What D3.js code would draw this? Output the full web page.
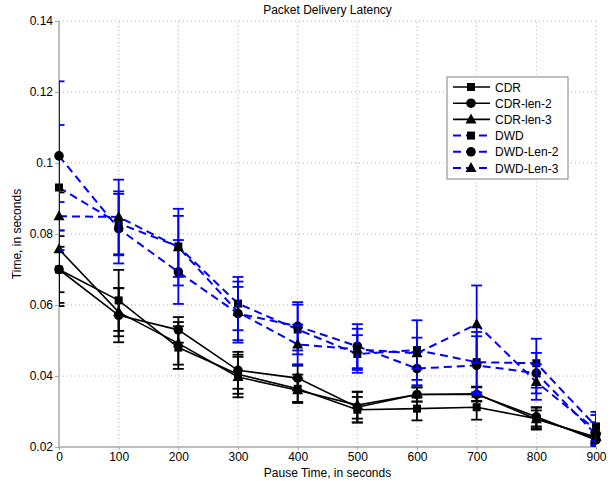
<!DOCTYPE html>
<meta charset="utf-8">
<style>
body { margin: 0; background: #fff; }
text { font-family: "Liberation Sans", Arial, sans-serif; font-size: 12px; fill: #000; }
.grid line { stroke: #b0b0b0; stroke-dasharray: 1,3; }
.axis path, .axis line { stroke: #a8a8a8; }
.axis path { stroke-width: 1.5; }
</style>
<svg width="613" height="481"></svg>
<script src="https://cdn.jsdelivr.net/npm/d3@7"></script>
<script>

var pauseTimes = [0, 100, 200, 300, 400, 500, 600, 700, 800, 900];

var cdr        = [0.0700, 0.0613, 0.0480, 0.0405, 0.0364, 0.0305, 0.0308, 0.0312, 0.0280, 0.0225];
var cdrErr     = [0.0064, 0.0086, 0.0060, 0.0055, 0.0040, 0.0036, 0.0033, 0.0035, 0.0031, 0.0015];
var cdrLen2    = [0.0700, 0.0571, 0.0530, 0.0416, 0.0394, 0.0312, 0.0348, 0.0348, 0.0285, 0.0220];
var cdrLen2Err = [0.0094, 0.0076, 0.0036, 0.0052, 0.0035, 0.0043, 0.0020, 0.0020, 0.0027, 0.0015];
var cdrLen3    = [0.0757, 0.0580, 0.0492, 0.0397, 0.0360, 0.0318, 0.0348, 0.0350, 0.0278, 0.0228];
var cdrLen3Err = [0.0160, 0.0068, 0.0060, 0.0057, 0.0033, 0.0038, 0.0020, 0.0020, 0.0025, 0.0015];
var dwd        = [0.0931, 0.0830, 0.0765, 0.0604, 0.0531, 0.0462, 0.0473, 0.0439, 0.0436, 0.0258];
var dwdErr     = [0.0176, 0.0090, 0.0086, 0.0075, 0.0070, 0.0053, 0.0084, 0.0085, 0.0069, 0.0041];
var dwdLen2    = [0.1020, 0.0815, 0.0693, 0.0576, 0.0540, 0.0484, 0.0421, 0.0430, 0.0408, 0.0235];
var dwdLen2Err = [0.0210, 0.0098, 0.0090, 0.0075, 0.0068, 0.0062, 0.0047, 0.0082, 0.0057, 0.0035];
var dwdLen3    = [0.0850, 0.0848, 0.0763, 0.0580, 0.0489, 0.0475, 0.0464, 0.0546, 0.0383, 0.0248];
var dwdLen3Err = [0.0040, 0.0105, 0.0108, 0.0086, 0.0056, 0.0058, 0.0044, 0.0109, 0.0050, 0.0042];

var yTicks = [0.02, 0.04, 0.06, 0.08, 0.1, 0.12, 0.14];
var yTickLabels = ["0.02", "0.04", "0.06", "0.08", "0.1", "0.12", "0.14"];

var series = [
  {name: "CDR",       vals: cdr,     err: cdrErr,     color: "#000", dash: null, marker: "square"},
  {name: "CDR-len-2", vals: cdrLen2, err: cdrLen2Err, color: "#000", dash: null, marker: "circle"},
  {name: "CDR-len-3", vals: cdrLen3, err: cdrLen3Err, color: "#000", dash: null, marker: "triangle"},
  {name: "DWD",       vals: dwd,     err: dwdErr,     color: "#0000ff", dash: "8,5", marker: "square"},
  {name: "DWD-Len-2", vals: dwdLen2, err: dwdLen2Err, color: "#0000ff", dash: "8,5", marker: "circle"},
  {name: "DWD-Len-3", vals: dwdLen3, err: dwdLen3Err, color: "#0000ff", dash: "8,5", marker: "triangle"}
];

var svg = d3.select("svg");
var pLeft = 59, pRight = 596, pTop = 21, pBottom = 447;

var x = d3.scaleLinear().domain([0, 900]).range([pLeft, pRight]);
var y = d3.scaleLinear().domain([0.02, 0.14]).range([pBottom, pTop]);

// grid
var grid = svg.append("g").attr("class", "grid");
grid.selectAll(".gx").data(pauseTimes.slice(1)).enter().append("line")
  .attr("x1", d => x(d)).attr("x2", d => x(d))
  .attr("y1", pBottom).attr("y2", pTop);
grid.selectAll(".gy").data(yTicks.slice(1)).enter().append("line")
  .attr("x1", pLeft).attr("x2", pRight)
  .attr("y1", d => y(d)).attr("y2", d => y(d));

// axes
svg.append("g").attr("class", "axis")
  .attr("transform", "translate(0," + pBottom + ")")
  .call(d3.axisBottom(x).tickValues(pauseTimes).tickSizeInner(3).tickSizeOuter(0).tickPadding(2))
  .call(g => g.select(".domain").attr("d", "M" + pLeft + ",0H" + pRight));

svg.append("g").attr("class", "axis")
  .attr("transform", "translate(" + pLeft + ",0)")
  .call(d3.axisLeft(y).tickValues(yTicks).tickFormat((d, i) => yTickLabels[i]).tickSizeInner(4).tickSizeOuter(0).tickPadding(2))
  .call(g => g.select(".domain").attr("d", "M0," + pBottom + "V" + pTop));

svg.selectAll(".axis text").style("font-size", "12px").attr("fill", "#000");

svg.append("clipPath").attr("id", "clip")
  .append("rect").attr("x", pLeft).attr("y", pTop - 2).attr("width", pRight - pLeft).attr("height", pBottom - pTop + 2);

function drawMarker(g, type, cx, cy) {
  if (type === "square") {
    g.append("rect").attr("x", cx - 4).attr("y", cy - 4).attr("width", 8).attr("height", 8).attr("fill", "#000");
  } else if (type === "circle") {
    g.append("circle").attr("cx", cx).attr("cy", cy).attr("r", 4.8).attr("fill", "#000");
  } else {
    g.append("path").attr("d", "M" + cx + "," + (cy - 6) + "L" + (cx + 5.5) + "," + (cy + 4) + "L" + (cx - 5.5) + "," + (cy + 4) + "Z").attr("fill", "#000");
  }
}

var line = d3.line().x((d, i) => x(pauseTimes[i])).y(d => y(d));

series.forEach(function(s) {
  var g = svg.append("g");
  var eb = g.append("g").attr("clip-path", "url(#clip)")
    .attr("stroke", s.color).attr("stroke-width", 1.8);
  s.vals.forEach(function(v, i) {
    var cx = x(pauseTimes[i]), lo = y(v - s.err[i]), hi = y(v + s.err[i]);
    eb.append("line").attr("x1", cx).attr("x2", cx).attr("y1", lo).attr("y2", hi);
    eb.append("line").attr("x1", cx - 5.5).attr("x2", cx + 5.5).attr("y1", lo).attr("y2", lo);
    eb.append("line").attr("x1", cx - 5.5).attr("x2", cx + 5.5).attr("y1", hi).attr("y2", hi);
  });
  g.append("path").datum(s.vals)
    .attr("d", line).attr("fill", "none")
    .attr("stroke", s.color).attr("stroke-width", s.dash ? 2 : 1.6)
    .attr("stroke-dasharray", s.dash);
  s.vals.forEach(function(v, i) { drawMarker(g, s.marker, x(pauseTimes[i]), y(v)); });
});

// title and labels
svg.append("text").attr("x", (pLeft + pRight) / 2).attr("y", 14).attr("text-anchor", "middle").text("Packet Delivery Latency");
svg.append("text").attr("x", (pLeft + pRight) / 2).attr("y", 477).attr("text-anchor", "middle").text("Pause Time, in seconds");
svg.append("text").attr("transform", "translate(21," + ((pTop + pBottom) / 2) + ") rotate(-90)")
  .attr("text-anchor", "middle").text("Time, in seconds");

// legend
var lg = svg.append("g");
lg.append("rect").attr("x", 447).attr("y", 77).attr("width", 121).attr("height", 102)
  .attr("fill", "#fff").attr("stroke", "#808080").attr("stroke-width", 1);
series.forEach(function(s, i) {
  var cy = 87 + i * 16.2;
  lg.append("line").attr("x1", 453).attr("x2", 490).attr("y1", cy).attr("y2", cy)
    .attr("stroke", s.color).attr("stroke-width", s.dash ? 2 : 1.6)
    .attr("stroke-dasharray", s.dash);
  drawMarker(lg, s.marker, 471, cy);
  lg.append("text").attr("x", 495).attr("y", cy + 4.5).text(s.name);
});

</script>
